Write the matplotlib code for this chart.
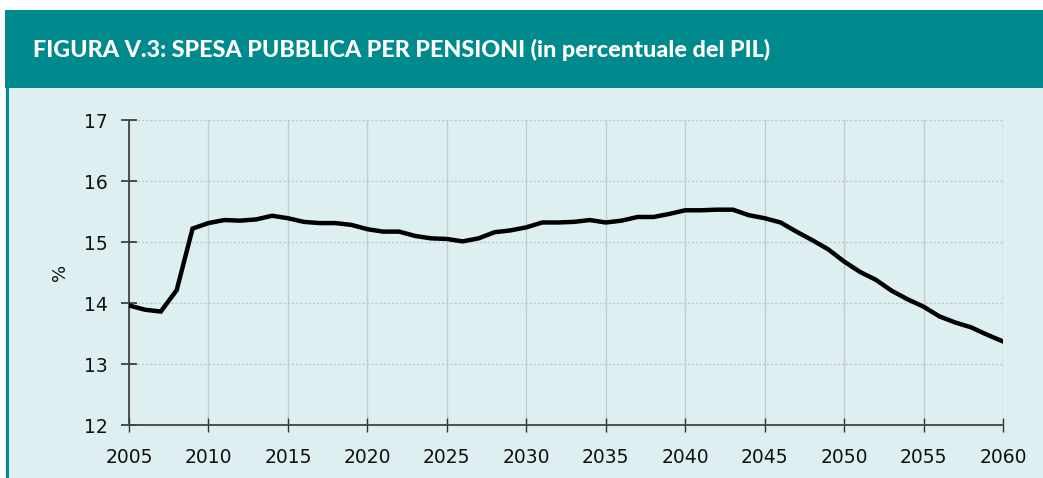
import matplotlib
matplotlib.use("Agg")
import matplotlib.pyplot as plt
from matplotlib.patches import Rectangle

years = list(range(2005, 2061))
spesa = [13.96, 13.89, 13.86, 14.21, 15.22, 15.31, 15.36, 15.35, 15.37, 15.43,
         15.39, 15.33, 15.31, 15.31, 15.28, 15.21, 15.17, 15.17, 15.10, 15.06,
         15.05, 15.01, 15.06, 15.16, 15.19, 15.24, 15.32, 15.32, 15.33, 15.36,
         15.32, 15.35, 15.41, 15.41, 15.46, 15.52, 15.52, 15.53, 15.53, 15.44,
         15.39, 15.32, 15.17, 15.03, 14.88, 14.68, 14.51, 14.38, 14.20, 14.06,
         13.94, 13.78, 13.68, 13.60, 13.48, 13.37]
x_ticks = list(range(2005, 2061, 5))
y_ticks = [12, 13, 14, 15, 16, 17]
title = "FIGURA V.3: SPESA PUBBLICA PER PENSIONI (in percentuale del PIL)"
ylabel = "%"

W, H = 1043, 478
TEAL = "#008A8D"
PANEL = "#DEEFF1"

fig = plt.figure(figsize=(W / 100, H / 100), dpi=100)
fig.patch.set_facecolor("white")

def fx(px):
    return px / W

def fy(py):
    return 1 - py / H

# header and panel
fig.patches.append(Rectangle((fx(5), fy(88)), fx(W - 5), 78 / H, transform=fig.transFigure,
                             facecolor=TEAL, edgecolor="none", zorder=-10))
fig.patches.append(Rectangle((fx(5), 0), fx(W - 5), fy(88), transform=fig.transFigure,
                             facecolor=PANEL, edgecolor="none", zorder=-10))
fig.patches.append(Rectangle((fx(6), 0), fx(3), fy(88), transform=fig.transFigure,
                             facecolor=TEAL, edgecolor="none", zorder=-9))

fig.text(fx(33), fy(50), title, color="white", fontsize=16.8, fontweight="black",
         family="Lato", ha="left", va="center")

ax = fig.add_axes([fx(129), fy(425), fx(1003 - 129), (425 - 120) / H])
ax.set_facecolor(PANEL)
ax.plot(years, spesa, color="black", lw=3.2, solid_joinstyle="miter", zorder=3)

ax.set_xlim(2005, 2060)
ax.set_ylim(12, 17)
ax.set_xticks(x_ticks)
ax.set_yticks(y_ticks)
ax.tick_params(axis="y", direction="inout", length=12, width=1.2, color="#333333",
               labelsize=13.5, pad=9, labelcolor="#111111")
ax.tick_params(axis="x", direction="inout", length=10, width=1.0, color="#333333",
               labelsize=13.5, pad=11.5, labelcolor="#111111")
ax.xaxis.grid(True, color="#C4CCCE", lw=1.0, ls="-")
ax.yaxis.grid(True, color="#C0C8CA", lw=1.0, ls=(0, (1.5, 1.5)))
ax.set_axisbelow(True)
for s in ["top", "right"]:
    ax.spines[s].set_visible(False)
for s in ["left", "bottom"]:
    ax.spines[s].set_color("#444444")
    ax.spines[s].set_linewidth(1.3)

ax.set_ylabel(ylabel, fontsize=13, color="#111111")
ax.yaxis.set_label_coords((69 - 129) / (1003 - 129), 0.5)

fig.savefig("out.png", dpi=100, facecolor=fig.get_facecolor())
